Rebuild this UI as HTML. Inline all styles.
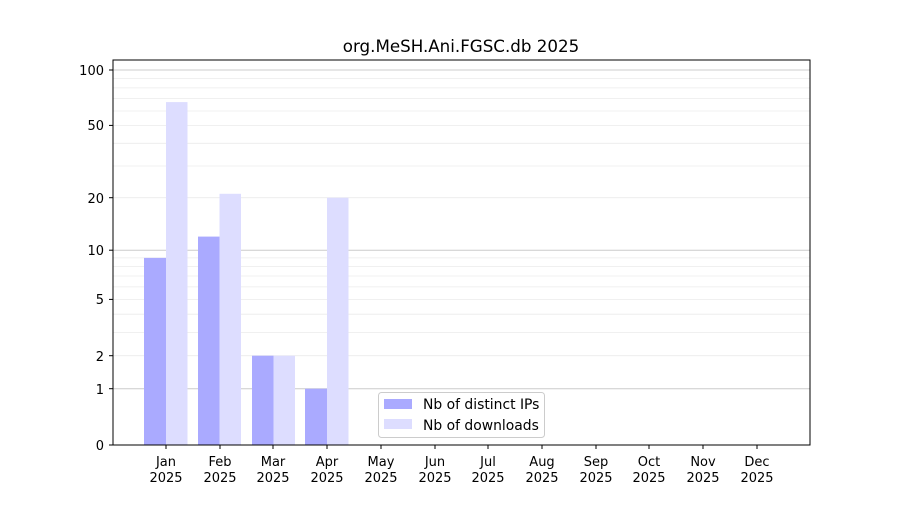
<!DOCTYPE html>
<html><head><meta charset="utf-8"><style>
body{margin:0;background:#fff;}
svg text{font-family:"DejaVu Sans","Liberation Sans",sans-serif;}
</style></head><body>
<svg width="900" height="500" xmlns="http://www.w3.org/2000/svg">
<rect width="900" height="500" fill="#fff"/>
<g stroke="#ebebeb" stroke-width="0.8">
<line x1="113" x2="810" y1="355.7" y2="355.7"/>
<line x1="113" x2="810" y1="332.4" y2="332.4"/>
<line x1="113" x2="810" y1="314.2" y2="314.2"/>
<line x1="113" x2="810" y1="299.4" y2="299.4"/>
<line x1="113" x2="810" y1="286.9" y2="286.9"/>
<line x1="113" x2="810" y1="276.0" y2="276.0"/>
<line x1="113" x2="810" y1="266.5" y2="266.5"/>
<line x1="113" x2="810" y1="257.9" y2="257.9"/>
<line x1="113" x2="810" y1="197.7" y2="197.7"/>
<line x1="113" x2="810" y1="166.0" y2="166.0"/>
<line x1="113" x2="810" y1="143.3" y2="143.3"/>
<line x1="113" x2="810" y1="125.4" y2="125.4"/>
<line x1="113" x2="810" y1="111.0" y2="111.0"/>
<line x1="113" x2="810" y1="98.6" y2="98.6"/>
<line x1="113" x2="810" y1="87.9" y2="87.9"/>
<line x1="113" x2="810" y1="78.5" y2="78.5"/>
</g>
<g stroke="#cccccc" stroke-width="1">
<line x1="113" x2="810" y1="388.7" y2="388.7"/>
<line x1="113" x2="810" y1="250.2" y2="250.2"/>
<line x1="113" x2="810" y1="70" y2="70"/>
</g>
<g fill="#aaaaff">
<rect x="144" y="257.9" width="22" height="187.1"/>
<rect x="198" y="236.6" width="21.5" height="208.4"/>
<rect x="252" y="355.7" width="21.5" height="89.3"/>
<rect x="305" y="388.7" width="22" height="56.3"/>
</g>
<g fill="#ddddff">
<rect x="166" y="102.1" width="21.5" height="342.9"/>
<rect x="219.5" y="193.8" width="21.5" height="251.2"/>
<rect x="273.5" y="355.7" width="21.5" height="89.3"/>
<rect x="327" y="197.7" width="21.5" height="247.3"/>
</g>
<rect x="113" y="60" width="697" height="385" fill="none" stroke="#000" stroke-width="1"/>
<g stroke="#000" stroke-width="1">
<line x1="113" x2="109" y1="445" y2="445"/>
<line x1="113" x2="109" y1="388.7" y2="388.7"/>
<line x1="113" x2="109" y1="355.7" y2="355.7"/>
<line x1="113" x2="109" y1="299.4" y2="299.4"/>
<line x1="113" x2="109" y1="250.2" y2="250.2"/>
<line x1="113" x2="109" y1="197.7" y2="197.7"/>
<line x1="113" x2="109" y1="125.4" y2="125.4"/>
<line x1="113" x2="109" y1="70" y2="70"/>
</g>
<g font-size="13" text-anchor="end" fill="#000">
<text x="104" y="450">0</text>
<text x="104" y="394">1</text>
<text x="104" y="361">2</text>
<text x="104" y="304">5</text>
<text x="104" y="255">10</text>
<text x="104" y="203">20</text>
<text x="104" y="130">50</text>
<text x="104" y="75">100</text>
</g>
<g font-size="13" text-anchor="middle" fill="#000">
<g stroke="#000"><line x1="166" x2="166" y1="445" y2="449"/><line x1="220" x2="220" y1="445" y2="449"/><line x1="273" x2="273" y1="445" y2="449"/><line x1="327" x2="327" y1="445" y2="449"/><line x1="381" x2="381" y1="445" y2="449"/><line x1="435" x2="435" y1="445" y2="449"/><line x1="488" x2="488" y1="445" y2="449"/><line x1="542" x2="542" y1="445" y2="449"/><line x1="596" x2="596" y1="445" y2="449"/><line x1="649" x2="649" y1="445" y2="449"/><line x1="703" x2="703" y1="445" y2="449"/><line x1="757" x2="757" y1="445" y2="449"/></g>
<text x="166" y="466">Jan</text><text x="166" y="482">2025</text>
<text x="220" y="466">Feb</text><text x="220" y="482">2025</text>
<text x="273" y="466">Mar</text><text x="273" y="482">2025</text>
<text x="327" y="466">Apr</text><text x="327" y="482">2025</text>
<text x="381" y="466">May</text><text x="381" y="482">2025</text>
<text x="435" y="466">Jun</text><text x="435" y="482">2025</text>
<text x="488" y="466">Jul</text><text x="488" y="482">2025</text>
<text x="542" y="466">Aug</text><text x="542" y="482">2025</text>
<text x="596" y="466">Sep</text><text x="596" y="482">2025</text>
<text x="649" y="466">Oct</text><text x="649" y="482">2025</text>
<text x="703" y="466">Nov</text><text x="703" y="482">2025</text>
<text x="757" y="466">Dec</text><text x="757" y="482">2025</text>
</g>
<text x="461" y="52" font-size="16.7" text-anchor="middle">org.MeSH.Ani.FGSC.db 2025</text>
<rect x="378.5" y="392.5" width="166" height="45" rx="3" fill="#fff" fill-opacity="0.8" stroke="#cccccc"/>
<rect x="384" y="399" width="28" height="10" fill="#aaaaff"/>
<rect x="384" y="419" width="28" height="10" fill="#ddddff"/>
<text x="423" y="409" font-size="13.9">Nb of distinct IPs</text>
<text x="423" y="430" font-size="13.9">Nb of downloads</text>
</svg>
</body></html>
